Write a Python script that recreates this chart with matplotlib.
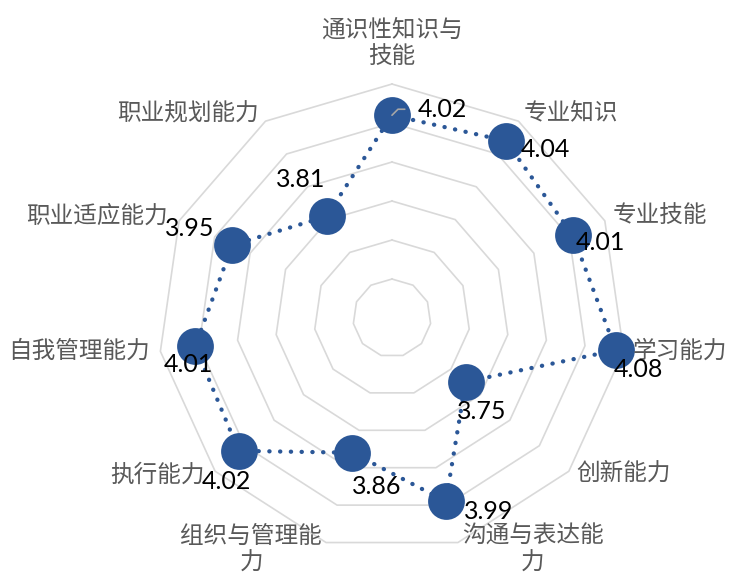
import numpy as np
import matplotlib
matplotlib.use("Agg")
import matplotlib.pyplot as plt

# Radar data (clockwise from the top)
categories = ["通识性知识与\n技能", "专业知识", "专业技能", "学习能力", "创新能力",
              "沟通与表达能\n力", "组织与管理能\n力", "执行能力", "自我管理能力",
              "职业适应能力", "职业规划能力"]
scores = [4.02, 4.04, 4.01, 4.08, 3.75, 3.99, 3.86, 4.02, 4.01, 3.95, 3.81]
r_min, r_max, r_step = 3.5, 4.1, 0.1

# Styling
blue = "#2B5797"
grid_gray = "#D9D9D9"
label_gray = "#595959"
cjk_font = ["Noto Sans CJK SC", "DejaVu Sans"]
num_font = ["Lato", "DejaVu Sans"]

# label offsets in pixels (dx right, dy down) -- data labels were nudged by hand in the original
value_offsets = [(50, -6), (40, 9), (28, 7), (23, 19), (16, 30), (43, 10),
                 (24, 34), (-12, 31), (-7, 18), (-43, -17), (-26, -37)]
cat_offsets = [(0, -16, "center", "bottom"), (5, -8, "left", "center"),
               (8, -5, "left", "center"), (9, 0, "left", "center"),
               (8, 2, "left", "center"), (4, 7, "left", "center"),
               (-4, 7, "right", "center"), (-10, 4, "right", "center"),
               (-10, 0, "right", "center"), (-11, -5, "right", "center"),
               (-7, -8, "right", "center")]

n = len(categories)
theta = np.arange(n) * 2 * np.pi / n
theta_closed = np.append(theta, theta[0])

fig = plt.figure(figsize=(7.29, 5.74), dpi=100)
ax = fig.add_axes([0.2167, 0.0383, 0.642, 0.8153], projection="polar")
ax.set_theta_offset(np.pi / 2)
ax.set_theta_direction(-1)
ax.set_ylim(r_min, r_max)
ax.grid(False)
ax.set_xticks([])
ax.set_yticks([])
ax.spines["polar"].set_visible(False)
ax.patch.set_visible(False)

# polygon grid rings
for level in np.arange(r_min + r_step, r_max + r_step / 2, r_step):
    ax.plot(theta_closed, [level] * (n + 1), color=grid_gray, lw=1.2, zorder=1, clip_on=False)

# series
vals = np.append(scores, scores[0])
ax.plot(theta_closed, vals, color=blue, lw=3.1, linestyle=(0, (0.05, 2.45)),
        dash_capstyle="round", zorder=2, clip_on=False)
ax.plot(theta, scores, linestyle="none", marker="o", markersize=26.5,
        color=blue, markeredgewidth=0, zorder=3, clip_on=False)

# category labels
for t, lab, (dx, dy, ha, va) in zip(theta, categories, cat_offsets):
    ax.annotate(lab, xy=(t, r_max), xytext=(dx, -dy), textcoords="offset pixels",
                ha=ha, va=va, multialignment="center", fontsize=17, color=label_gray,
                family=cjk_font, linespacing=1.2, annotation_clip=False, zorder=4)

# value labels
for i, (t, v) in enumerate(zip(theta, scores)):
    dx, dy = value_offsets[i]
    kw = {}
    if i == 0:
        # leader line for the moved label at the top
        kw["arrowprops"] = dict(arrowstyle="-", color="#A6A6A6", lw=1.2,
                                shrinkA=7, shrinkB=0, relpos=(0, 0.5),
                                connectionstyle="angle,angleA=0,angleB=45,rad=0")
    ax.annotate(f"{v:.2f}", xy=(t, v), xytext=(dx, -dy), textcoords="offset pixels",
                ha="center", va="center", fontsize=18, color="black",
                family=num_font, annotation_clip=False, zorder=5, **kw)

plt.savefig("out.png", dpi=100)
